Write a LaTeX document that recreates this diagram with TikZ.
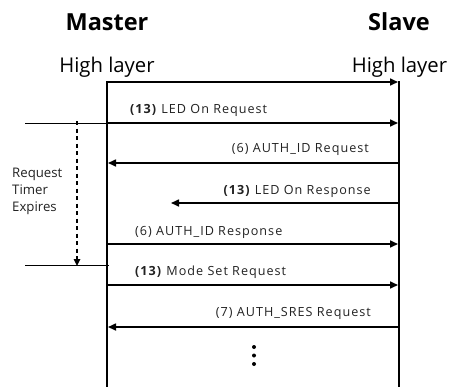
\documentclass[tikz,border=0pt]{standalone}
\usepackage{fontspec}
\setmainfont{Open Sans}
\newfontfamily\spacedfont{Open Sans}[LetterSpace=8]
\usetikzlibrary{arrows.meta}
\definecolor{ink}{HTML}{222222}
\tikzset{
  lifeline/.style={line width=1.8pt, line cap=rect},
  msg/.style={line width=1.6pt, -{Triangle[length=8pt,width=7pt]}},
  thinline/.style={line width=0.9pt},
  timer/.style={line width=1.6pt, dash pattern=on 4pt off 3.5pt, -{Triangle[length=7pt,width=6.5pt]}},
  msglabel/.style={font=\spacedfont\fontsize{12.6}{14}\selectfont, text=ink, inner sep=0pt},
  head/.style={font=\fontsize{23.5}{27}\selectfont\bfseries, text=black, inner sep=0pt},
  layer/.style={font=\fontsize{20.3}{24}\selectfont, text=black, inner sep=0pt},
  dot/.style={circle, fill=black, inner sep=0pt, minimum size=4pt}
}
\begin{document}
\begin{tikzpicture}[x=1pt,y=-1pt]
\useasboundingbox (0,0) rectangle (452,386);
\fill[white] (0,0) rectangle (452,386);

% headers
\node[head] (master) at (107,22) {Master};
\node[head] (slave) at (399,22) {Slave};
\node[layer] (mlayer) at (107,67) {High layer};
\node[layer] (slayer) at (399.5,67) {High layer};

% lifeline anchors
\coordinate (m0) at (107,82);   \coordinate (s0) at (399,82);
\coordinate (m1) at (107,123);  \coordinate (s1) at (399,123);
\coordinate (m2) at (107,163);  \coordinate (s2) at (399,163);
\coordinate (s3) at (399,203);  \coordinate (r3) at (171,203);
\coordinate (m4) at (107,244);  \coordinate (s4) at (399,244);
\coordinate (m5) at (107,285);  \coordinate (s5) at (399,285);
\coordinate (m6) at (107,327);  \coordinate (s6) at (399,327);
\coordinate (mend) at (107,386); \coordinate (send) at (399,386);

% lifelines
\draw[lifeline] (m0) -- (mend);
\draw[lifeline] (s0) -- (send);

% messages
\draw[msg] (m0) -- ([xshift=-1pt]s0);
\draw[msg] (m1) -- ([xshift=-1pt]s1);
\draw[msg] (s2) -- ([xshift=1pt]m2);
\draw[msg] (s3) -- (r3);
\draw[msg] (m4) -- ([xshift=-1pt]s4);
\draw[msg] (m5) -- ([xshift=-1pt]s5);
\draw[msg] (s6) -- ([xshift=1pt]m6);

% message labels
\node[msglabel, anchor=west] (l1) at (130,110) {\textbf{(13)} LED On Request};
\node[msglabel, anchor=east] (l2) at (369,149) {(6) AUTH\_ID Request};
\node[msglabel, anchor=east] (l3) at (371,191) {\textbf{(13)} LED On Response};
\node[msglabel, anchor=west] (l4) at (135,232) {(6) AUTH\_ID Response};
\node[msglabel, anchor=west] (l5) at (135,272) {\textbf{(13)} Mode Set Request};
\node[msglabel, anchor=east] (l6) at (371,313) {(7) AUTH\_SRES Request};

% continuation dots
\node[dot] (d1) at (254,347) {};
\node[dot] (d2) at (254,355.5) {};
\node[dot] (d3) at (254,364) {};

% request timer
\coordinate (ta) at (25,123);
\coordinate (tb) at (25,265);
\coordinate (tc) at (109,265);
\coordinate (t1) at (77,123);
\coordinate (t2) at (77,265);
\draw[thinline] (ta) -- (m1);
\draw[thinline] (tb) -- (tc);
\draw[timer] ([yshift=2pt]t1) -- ([yshift=-1pt]t2);
\node[msglabel, anchor=north west, align=left, font=\fontsize{13.2}{17}\selectfont] (tlabel) at (12,168)
  {Request\\Timer\\Expires};
\end{tikzpicture}
\end{document}
